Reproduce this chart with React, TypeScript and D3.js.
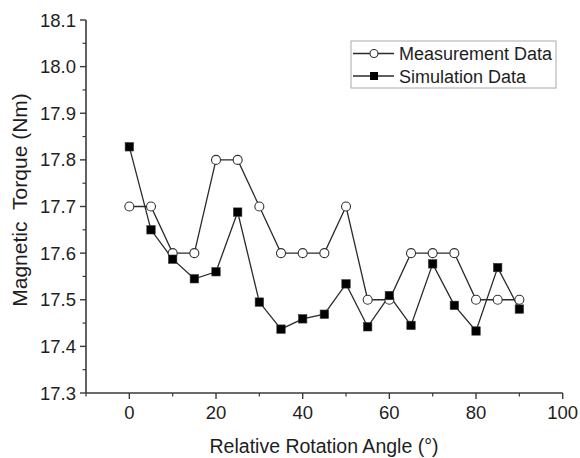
import React from "react";
import * as d3 from "d3";

const angles = [0, 5, 10, 15, 20, 25, 30, 35, 40, 45, 50, 55, 60, 65, 70, 75, 80, 85, 90];
const measurement = [17.7, 17.7, 17.6, 17.6, 17.8, 17.8, 17.7, 17.6, 17.6, 17.6, 17.7, 17.5, 17.5, 17.6, 17.6, 17.6, 17.5, 17.5, 17.5];
const simulation = [17.828, 17.65, 17.587, 17.545, 17.56, 17.688, 17.495, 17.437, 17.459, 17.469, 17.534, 17.442, 17.509, 17.445, 17.577, 17.488, 17.433, 17.569, 17.48];
const xTicks = [0, 20, 40, 60, 80, 100];
const xMinor = [-10, 10, 30, 50, 70, 90];
const yTicks = [17.3, 17.4, 17.5, 17.6, 17.7, 17.8, 17.9, 18.0, 18.1];
const yMinor = [17.35, 17.45, 17.55, 17.65, 17.75, 17.85, 17.95, 18.05];
const legendLabels = ["Measurement Data", "Simulation Data"];
const xTitle = "Relative Rotation Angle (\u00b0)";
const yTitle = "Magnetic\u00a0\u00a0Torque (Nm)";

const W = 580, H = 458;
const FONT = "'Liberation Sans', Arial, sans-serif";
const AX = "#3a3a3a";

export default function App() {
  const x = d3.scaleLinear().domain([-10, 100]).range([86, 562.7]);
  const y = d3.scaleLinear().domain([17.3, 18.1]).range([393, 20]);
  const line = d3.line<number>().x((_, i) => x(angles[i])).y((v) => y(v));

  return (
    <div style={{ position: "absolute", left: 0, top: 0 }}>
      <svg width={W} height={H} style={{ display: "block" }} fontFamily={FONT}>
        <rect width={W} height={H} fill="#fff" />
        {/* axes */}
        <line x1={x(-10)} x2={x(100)} y1={y(17.3)} y2={y(17.3)} stroke={AX} strokeWidth={1.6} />
        <line x1={x(-10)} x2={x(-10)} y1={y(17.3)} y2={y(18.1)} stroke={AX} strokeWidth={1.6} />
        {xTicks.map((t) => (
          <g key={"xt" + t}>
            <line x1={x(t)} x2={x(t)} y1={y(17.3)} y2={y(17.3) + 6} stroke={AX} strokeWidth={1.4} />
            <text x={x(t)} y={y(17.3) + 26} textAnchor="middle" fontSize={18.5} fill="#1e1e1e">{t}</text>
          </g>
        ))}
        {xMinor.map((t) => (
          <line key={"xm" + t} x1={x(t)} x2={x(t)} y1={y(17.3)} y2={y(17.3) + 3.5} stroke={AX} strokeWidth={1.2} />
        ))}
        {yTicks.map((t) => (
          <g key={"yt" + t}>
            <line x1={x(-10) - 6} x2={x(-10)} y1={y(t)} y2={y(t)} stroke={AX} strokeWidth={1.4} />
            <text x={x(-10) - 10} y={y(t) + 6.5} textAnchor="end" fontSize={18.5} fill="#1e1e1e">{t.toFixed(1)}</text>
          </g>
        ))}
        {yMinor.map((t) => (
          <line key={"ym" + t} x1={x(-10) - 3.5} x2={x(-10)} y1={y(t)} y2={y(t)} stroke={AX} strokeWidth={1.2} />
        ))}
        {/* titles */}
        <text x={324} y={453} textAnchor="middle" fontSize={19.5} fill="#1e1e1e">{xTitle}</text>
        <text transform={`translate(27,${200}) rotate(-90)`} textAnchor="middle" fontSize={21} fill="#1e1e1e">{yTitle}</text>
        {/* series */}
        <path d={line(measurement) || ""} fill="none" stroke="#2a2a2a" strokeWidth={1.3} />
        <path d={line(simulation) || ""} fill="none" stroke="#2a2a2a" strokeWidth={1.3} />
        {measurement.map((v, i) => (
          <circle key={"m" + i} cx={x(angles[i])} cy={y(v)} r={4.5} fill="#fff" stroke="#333" strokeWidth={1.1} />
        ))}
        {simulation.map((v, i) => (
          <rect key={"s" + i} x={x(angles[i]) - 4.2} y={y(v) - 4.2} width={8.4} height={8.4} fill="#000" stroke="#333" strokeWidth={0.6} />
        ))}
        {/* legend */}
        <rect x={351} y={41} width={205} height={47} fill="#fff" stroke="#aaa" strokeWidth={1} />
        <line x1={353} x2={394} y1={53.5} y2={53.5} stroke="#2a2a2a" strokeWidth={1.3} />
        <circle cx={374} cy={53.5} r={4} fill="#fff" stroke="#333" strokeWidth={1.1} />
        <text x={399} y={60} fontSize={18} fill="#1e1e1e">{legendLabels[0]}</text>
        <line x1={353} x2={394} y1={76} y2={76} stroke="#2a2a2a" strokeWidth={1.3} />
        <rect x={370} y={72} width={8} height={8} fill="#000" />
        <text x={399} y={82.5} fontSize={18} fill="#1e1e1e">{legendLabels[1]}</text>
      </svg>
    </div>
  );
}
